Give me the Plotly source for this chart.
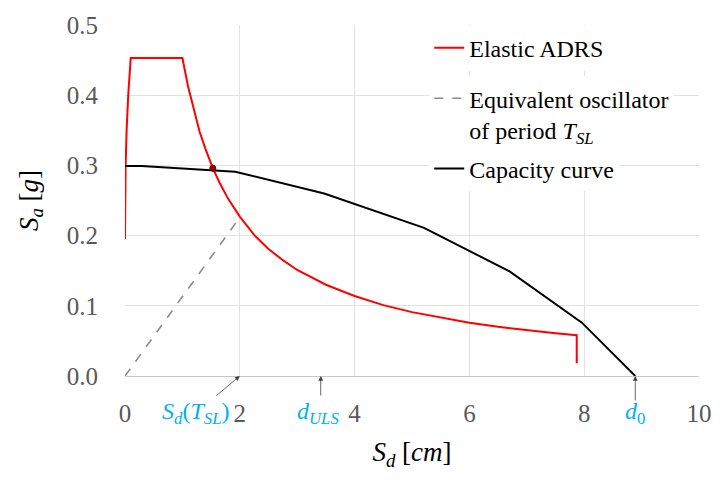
import plotly.graph_objects as go

# Elastic ADRS spectrum (Sd in cm, Sa in g)
adrs_sd = [0.0, 0.002, 0.010, 0.028, 0.057, 0.10, 1.00, 1.10, 1.20, 1.30, 1.40, 1.53,
           1.65, 1.80, 2.00, 2.25, 2.50, 2.75, 3.00, 3.50, 4.00, 4.50, 5.00, 5.50,
           6.00, 6.50, 7.00, 7.50, 7.87, 7.87]
adrs_sa = [0.195, 0.247, 0.298, 0.350, 0.401, 0.453, 0.453, 0.412, 0.378, 0.348, 0.324, 0.296,
           0.275, 0.252, 0.227, 0.201, 0.181, 0.165, 0.151, 0.130, 0.114, 0.101, 0.091, 0.083,
           0.076, 0.070, 0.065, 0.061, 0.058, 0.018]

# Equivalent oscillator of period T_SL (secant from origin)
osc_sd = [0.0, 2.0]
osc_sa = [0.0, 0.226]

# Capacity curve of the equivalent SDOF system
cap_sd = [0.0, 0.29, 1.92, 3.47, 5.21, 6.70, 7.96, 8.89]
cap_sa = [0.299, 0.299, 0.291, 0.260, 0.211, 0.149, 0.076, 0.0]

# Performance point (intersection of ADRS and capacity)
perf_sd = [1.53]
perf_sa = [0.296]

# Marked displacements on the Sd axis
sd_tsl = 2.0
d_uls = 3.41
d_0 = 8.89

x_ticks = [0, 2, 4, 6, 8, 10]
y_ticks = [0.0, 0.1, 0.2, 0.3, 0.4, 0.5]

SERIF = "Liberation Serif"
CYAN = "#00B0F0"

fig = go.Figure()
fig.add_trace(go.Scatter(
    x=adrs_sd, y=adrs_sa, mode="lines", name="Elastic ADRS",
    line=dict(color="#FF0000", width=2), legend="legend"))
fig.add_trace(go.Scatter(
    x=osc_sd, y=osc_sa, mode="lines",
    name="Equivalent oscillator<br>of period <i>T<sub>SL</sub></i>",
    line=dict(color="#8C8C8C", width=1.6, dash="dash"), legend="legend2"))
fig.add_trace(go.Scatter(
    x=cap_sd, y=cap_sa, mode="lines", name="Capacity curve",
    line=dict(color="#000000", width=2), legend="legend3"))
fig.add_trace(go.Scatter(
    x=perf_sd, y=perf_sa, mode="markers", showlegend=False,
    marker=dict(size=6, color="#A00000", line=dict(color="#600000", width=1))))

# arrows pointing at the marked displacements
arrow = dict(showarrow=True, arrowhead=2, arrowsize=1.2, arrowwidth=0.8,
             arrowcolor="#404040", xref="x", yref="y", y=0, axref="pixel", ayref="pixel")
fig.add_annotation(x=sd_tsl, text="", ax=-25, ay=21, **arrow)
fig.add_annotation(x=d_uls, text="", ax=0, ay=21, **arrow)
fig.add_annotation(x=d_0, text="", ax=0, ay=26, **arrow)

label = dict(showarrow=False, xref="x", yref="paper", y=0, yanchor="middle", yshift=-37,
             font=dict(family=SERIF, size=24, color=CYAN))
fig.add_annotation(x=sd_tsl, xshift=-44, text="<i>S<sub>d</sub></i>(<i>T<sub>SL</sub></i>)", **label)
fig.add_annotation(x=d_uls, xshift=-3, text="<i>d<sub>ULS</sub></i>", **label)
fig.add_annotation(x=d_0, xshift=0, text="<i>d</i><sub>0</sub>", **label)

legend_style = dict(
    x=0.530, xanchor="left", yanchor="middle",
    bgcolor="white", borderwidth=0, valign="top", itemwidth=30,
    font=dict(family=SERIF, size=24, color="#000000"),
)

fig.update_layout(
    width=724, height=482,
    margin=dict(l=125, r=17, t=21, b=106),
    paper_bgcolor="white", plot_bgcolor="white",
    font=dict(family=SERIF, color="#595959"),
    legend=dict(y=0.934, **legend_style),
    legend2=dict(y=0.746, **legend_style),
    legend3=dict(y=0.590, **legend_style),
    xaxis=dict(
        range=[0, 10], tickvals=x_ticks, ticktext=[str(v) for v in x_ticks],
        showgrid=True, gridcolor="#E2E2E2", gridwidth=1,
        zeroline=False, showline=True, linecolor="#C6C6C6", linewidth=1,
        ticks="", ticklabelstandoff=15,
        tickfont=dict(family=SERIF, size=25, color="#595959"),
        title=dict(text="<i>S<sub>d</sub></i> [<i>cm</i>]", standoff=16,
                   font=dict(family=SERIF, size=27, color="#000000")),
    ),
    yaxis=dict(
        range=[0, 0.5], tickvals=y_ticks, tickformat=".1f",
        showgrid=True, gridcolor="#E2E2E2", gridwidth=1,
        zeroline=False, showline=False,
        ticks="", ticklabelstandoff=26,
        tickfont=dict(family=SERIF, size=25, color="#595959"),
        title=dict(text="<i>S<sub>a</sub></i> [<i>g</i>]", standoff=20,
                   font=dict(family=SERIF, size=27, color="#000000")),
    ),
)

fig.write_html("out.html")
